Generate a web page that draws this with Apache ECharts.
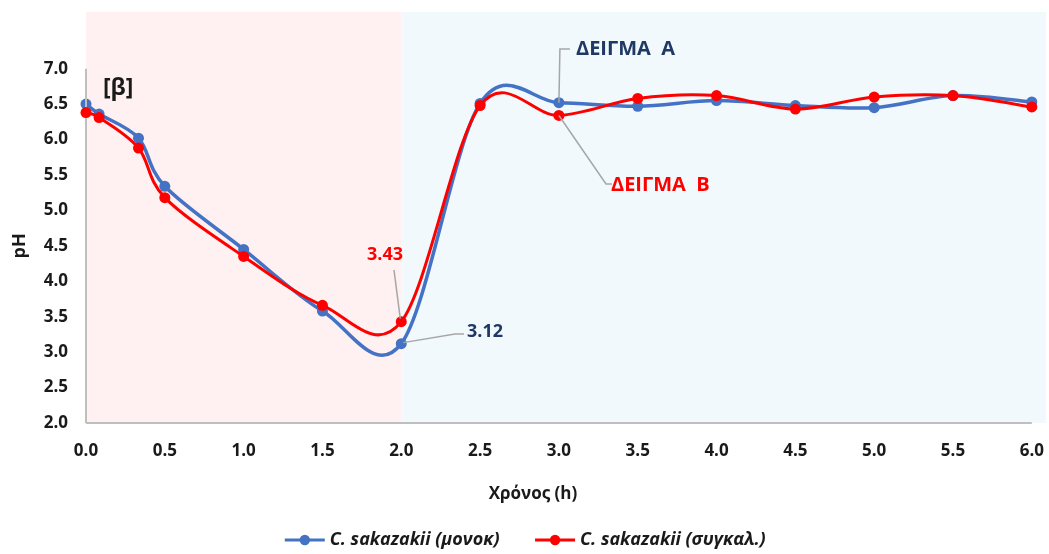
<!DOCTYPE html>
<html>
<head>
<meta charset="utf-8">
<script src="https://cdn.jsdelivr.net/npm/echarts@6/dist/echarts.min.js"></script>
<style>html,body{margin:0;padding:0;background:#fff}#c{width:1049px;height:554px}</style>
</head>
<body>
<div id="c"></div>
<script>
var times = [0, 0.083, 0.333, 0.5, 1.0, 1.5, 2.0, 2.5, 3.0, 3.5, 4.0, 4.5, 5.0, 5.5, 6.0];
var sampleA = [6.50, 6.36, 6.02, 5.34, 4.45, 3.58, 3.12, 6.51, 6.52, 6.47, 6.55, 6.48, 6.45, 6.62, 6.53];
var sampleB = [6.38, 6.31, 5.88, 5.18, 4.35, 3.66, 3.43, 6.48, 6.34, 6.58, 6.62, 6.43, 6.60, 6.62, 6.46];
var seriesNames = ['C. sakazakii (μονοκ)', 'C. sakazakii (συγκαλ.)'];
var phaseBounds = [0, 2, 6.09];
var yTicks = [2, 7];

var FONT = '"Open Sans", "Noto Sans", sans-serif';
var BLUE = '#4472C4', RED = '#FF0000', NAVY = '#1F3864';
var chart = echarts.init(document.getElementById('c'), null, {renderer: 'canvas'});

function pairs(ys) { return times.map(function (t, i) { return [t, ys[i]]; }); }

// Excel-like smoothed curve (Catmull-Rom Bezier) drawn through the chart's own scale via api.coord
function curveSeries(ys, color, width, z) {
  return {
    type: 'custom', name: 'curve', data: pairs(ys), z: z, silent: true,
    clip: true,
    encode: {x: 0, y: 1},
    renderItem: function (params, api) {
      if (params.dataIndex !== 0) return null;
      var p = times.map(function (t, i) { return api.coord([t, ys[i]]); });
      var n = p.length;
      var d = 'M' + p[0][0] + ' ' + p[0][1];
      for (var i = 0; i < n - 1; i++) {
        var p0 = p[Math.max(i - 1, 0)], p1 = p[i], p2 = p[i + 1], p3 = p[Math.min(i + 2, n - 1)];
        var c1x = p1[0] + (p2[0] - p0[0]) / 6, c1y = p1[1] + (p2[1] - p0[1]) / 6;
        var c2x = p2[0] - (p3[0] - p1[0]) / 6, c2y = p2[1] - (p3[1] - p1[1]) / 6;
        d += ' C' + c1x + ' ' + c1y + ' ' + c2x + ' ' + c2y + ' ' + p2[0] + ' ' + p2[1];
      }
      return {type: 'path', shape: {pathData: d}, style: {stroke: color, lineWidth: width, fill: null, lineJoin: 'round'}};
    }
  };
}

var option = {
  animation: false,
  backgroundColor: '#ffffff',
  grid: {left: 86, right: 0, top: 12, bottom: 131, containLabel: false},
  legend: {
    bottom: 0, left: 'center',
    itemWidth: 40, itemHeight: 13, itemGap: 34,
    textStyle: {fontFamily: FONT, fontSize: 18, fontWeight: 'bold', fontStyle: 'italic', color: '#1a1a1a'},
    data: [
      {name: seriesNames[0], lineStyle: {color: BLUE, width: 3, opacity: 1}, itemStyle: {color: BLUE}},
      {name: seriesNames[1], lineStyle: {color: RED, width: 3, opacity: 1}, itemStyle: {color: RED}}
    ]
  },
  xAxis: {
    type: 'value', min: 0, max: phaseBounds[2], interval: 0.5,
    axisLine: {show: false}, axisTick: {show: false}, splitLine: {show: false},
    axisLabel: {
      margin: 20, fontFamily: FONT, fontSize: 17, fontWeight: 'bold', color: '#1a1a1a',
      formatter: function (v) {
        if (v > 6.001) return '';
        if (Math.abs(v * 2 - Math.round(v * 2)) > 1e-6) return '';
        return v.toFixed(1);
      }
    }
  },
  yAxis: {
    type: 'value', min: 2, max: 7.8, interval: 0.5,
    axisLine: {show: false}, axisTick: {show: false}, splitLine: {show: false},
    axisLabel: {
      margin: 18, fontFamily: FONT, fontSize: 17, fontWeight: 'bold', color: '#1a1a1a',
      formatter: function (v) { return v > yTicks[1] + 0.001 ? '' : v.toFixed(1); }
    }
  },
  series: [
    curveSeries(sampleA, BLUE, 3.5, 2),
    {
      name: seriesNames[0], type: 'line', data: pairs(sampleA),
      symbol: 'circle', symbolSize: 11, z: 3,
      lineStyle: {color: BLUE, width: 0, opacity: 0}, itemStyle: {color: BLUE},
      markArea: {
        silent: true,
        data: [
          [{xAxis: phaseBounds[0], itemStyle: {color: '#fff1f1'}}, {xAxis: phaseBounds[1]}],
          [{xAxis: phaseBounds[1], itemStyle: {color: '#f1f9fd'}}, {xAxis: phaseBounds[2]}]
        ]
      },
      markLine: {
        silent: true, symbol: 'none', label: {show: false},
        lineStyle: {color: '#bfbfbf', width: 2, type: 'solid'},
        data: [
          [{coord: [0, yTicks[0]]}, {coord: [0, yTicks[1]]}],
          [{coord: [0, yTicks[0]]}, {coord: [6, yTicks[0]]}]
        ]
      }
    },
    curveSeries(sampleB, RED, 3, 4),
    {
      name: seriesNames[1], type: 'line', data: pairs(sampleB),
      symbol: 'circle', symbolSize: 11, z: 5,
      lineStyle: {color: RED, width: 0, opacity: 0}, itemStyle: {color: RED}
    }
  ]
};
chart.setOption(option);

function px(x, y) { return chart.convertToPixel({gridIndex: 0}, [x, y]); }
var pA2 = px(2.0, sampleA[6]);
var pB2 = px(2.0, sampleB[6]);
var pA3 = px(3.0, sampleA[8]);
var pB3 = px(3.0, sampleB[8]);
var yMid = px(0, 4.5);
var leader = {stroke: '#a6a6a6', lineWidth: 1.5, fill: null};

chart.setOption({
  graphic: [
    {type: 'text', x: 103, y: 88, z: 10, style: {text: '[β]', fontFamily: FONT, fontSize: 23, fontWeight: 'bold', fill: '#1a1a1a', verticalAlign: 'middle'}},
    {type: 'text', x: 20, y: yMid[1], rotation: Math.PI / 2, z: 10,
      style: {text: 'pH', fontFamily: FONT, fontSize: 18, fontWeight: 'bold', fill: '#1a1a1a', align: 'center', verticalAlign: 'middle'}},
    {type: 'text', x: 533, y: 494, z: 10,
      style: {text: 'Χρόνος (h)', fontFamily: FONT, fontSize: 17, fontWeight: 'bold', fill: '#1a1a1a', align: 'center', verticalAlign: 'middle'}},
    // ΔΕΙΓΜΑ Α
    {type: 'polyline', z: 10, shape: {points: [[pA3[0], pA3[1]], [pA3[0] + 1, 49], [pA3[0] + 11, 49]]}, style: leader},
    {type: 'text', x: 576, y: 49, z: 10,
      style: {text: 'ΔΕΙΓΜΑ  Α', fontFamily: FONT, fontSize: 20, fontWeight: 'bold', fill: NAVY, verticalAlign: 'middle'}},
    // ΔΕΙΓΜΑ Β
    {type: 'polyline', z: 10, shape: {points: [[pB3[0], pB3[1]], [606, 184], [612, 184]]}, style: leader},
    {type: 'text', x: 611, y: 185, z: 10,
      style: {text: 'ΔΕΙΓΜΑ  Β', fontFamily: FONT, fontSize: 20, fontWeight: 'bold', fill: RED, verticalAlign: 'middle'}},
    // 3.43
    {type: 'line', z: 10, shape: {x1: 394, y1: 270, x2: pB2[0] - 1, y2: pB2[1] - 3}, style: leader},
    {type: 'text', x: 385, y: 255, z: 10,
      style: {text: '3.43', fontFamily: FONT, fontSize: 18, fontWeight: 'bold', fill: RED, align: 'center', verticalAlign: 'middle'}},
    // 3.12
    {type: 'polyline', z: 10, shape: {points: [[pA2[0] + 2, pA2[1] - 1], [455, 334], [464, 334]]}, style: leader},
    {type: 'text', x: 467, y: 332, z: 10,
      style: {text: '3.12', fontFamily: FONT, fontSize: 18, fontWeight: 'bold', fill: NAVY, verticalAlign: 'middle'}}
  ]
});
</script>
</body>
</html>
